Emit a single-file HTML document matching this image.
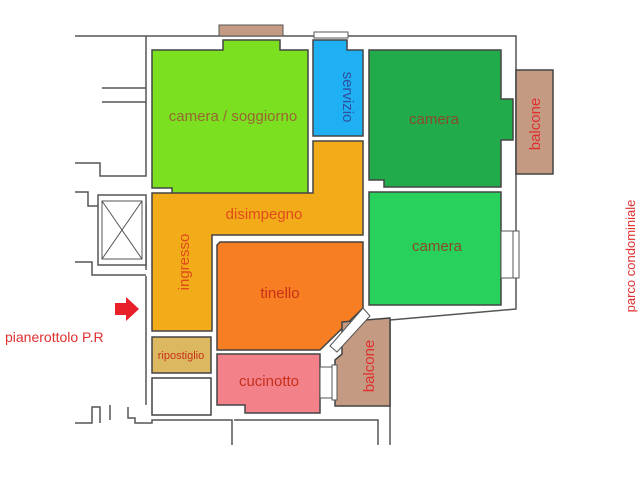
<!DOCTYPE html>
<html><head><style>body{margin:0;background:#fff}svg{display:block;font-family:"Liberation Sans",sans-serif}</style></head><body>
<svg width="640" height="480" viewBox="0 0 640 480">
<g fill="none" stroke="#555" stroke-width="1.5">
<path d="M75 36H516V309L390 320"/>
<path d="M146 36V176H100V163H75"/>
<path d="M102 88H146M102 102H146"/>
<path d="M75 192H88V206H146V270"/>
<path d="M75 262H92V275H146"/>
<path d="M75 423H92V407H100V423M110 405V420M128 407V418H135V423H152V420H232V445M234 420H378V445M390 320V445"/>
<path d="M146 276V405"/>
</g>
<rect x="98" y="195" width="48" height="70" fill="#fff" stroke="#555" stroke-width="1.5"/>
<rect x="102" y="201" width="40" height="58" fill="none" stroke="#555"/>
<path d="M102 201L142 259M142 201L102 259" stroke="#555"/>
<rect x="219" y="25" width="64" height="11" fill="#c49a82" stroke="#555"/>
<rect x="314" y="32" width="34" height="6" fill="#fff" stroke="#555"/>
<g stroke="#444" stroke-width="1.5">
<path d="M152 50H223V40H280V50H308V196H172V188H152Z" fill="#7ae020"/>
<path d="M313 50V40H347V50H363V136H313Z" fill="#1eb0f2"/>
<path d="M152 193H313V141H363V235H212V331H152Z" fill="#f2ac1a"/>
<path d="M369 50H501V99H513V140H501V187H384V180H369Z" fill="#22ab4a"/>
<rect x="369" y="192" width="132" height="113" fill="#28d05c"/>
<path d="M220 242H363V308L320 350H217V245Z" fill="#f77e22"/>
<path d="M342 322L390 318V406H335V360L342 354Z" fill="#c49a82"/>
<path d="M217 354H320V413H245V405H217Z" fill="#f2818a"/>
<rect x="152" y="337" width="59" height="36" fill="#dcb860"/>
<rect x="152" y="378" width="59" height="37" fill="#fff"/>
<rect x="516" y="70" width="37" height="104" fill="#c49a82"/>
</g>
<g fill="#fff" stroke="#555">
<rect x="501" y="231" width="12" height="47"/><rect x="513" y="231" width="6" height="47"/>
<rect x="320" y="367" width="12" height="31"/><rect x="332" y="365" width="5" height="35"/>
<path d="M363 308L370 316L337 352L330 346Z"/>
</g>
<path d="M115 303H126V297L139 309L126 321V315H115Z" fill="#e8202a"/>
<g font-size="15" text-anchor="middle">
<text x="233" y="121" fill="#996633">camera / soggiorno</text>
<text x="434" y="124" fill="#8a4a2a">camera</text>
<text x="437" y="251" fill="#8a4a2a">camera</text>
<text x="264" y="219" fill="#e04a1a">disimpegno</text>
<text x="280" y="298" fill="#c8301a">tinello</text>
<text x="269" y="386" fill="#c8301a">cucinotto</text>
<text x="181" y="359" fill="#c8301a" font-size="11">ripostiglio</text>
<text transform="translate(343,97) rotate(90)" fill="#3050a0">servizio</text>
<text transform="translate(189,262) rotate(-90)" fill="#e04a1a">ingresso</text>
<text transform="translate(540,124) rotate(-90)" fill="#e03030">balcone</text>
<text transform="translate(374,366) rotate(-90)" fill="#e03030">balcone</text>
<text transform="translate(635,256) rotate(-90)" fill="#e03030" font-size="13">parco condominiale</text>
<text x="5" y="342" text-anchor="start" fill="#e03030" font-size="14">pianerottolo P.R</text>
</g>
</svg>
</body></html>
